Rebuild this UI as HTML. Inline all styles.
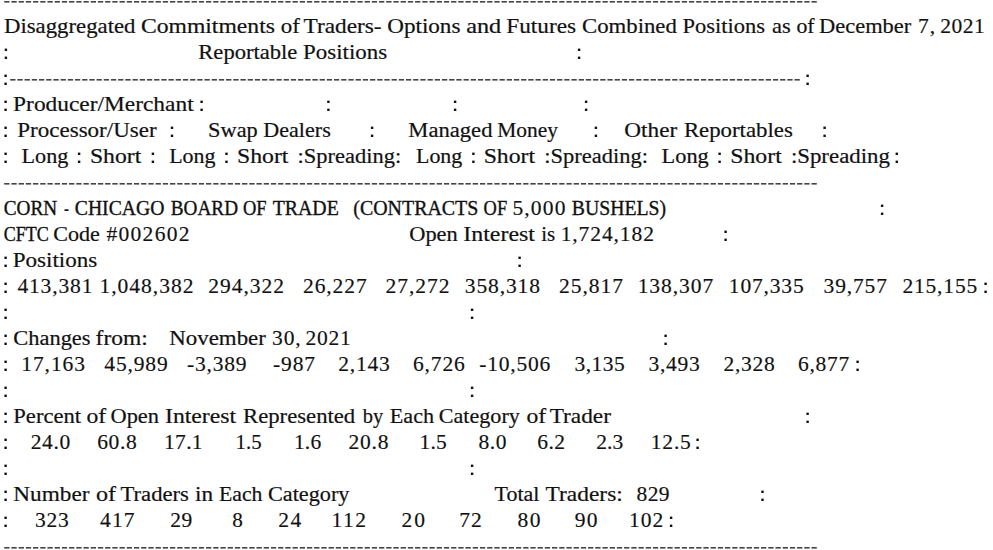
<!DOCTYPE html>
<html><head><meta charset="utf-8"><style>
html,body{margin:0;padding:0;background:#fff;width:993px;height:550px;overflow:hidden}
svg{display:block}
.c{fill:#111}
.n{stroke-width:0.15px}
.u{stroke-width:0.35px}
text{font-family:"Liberation Serif",serif;font-size:20.5px;fill:#111;stroke:#111;stroke-width:0.2px;white-space:pre}
</style></head><body>
<svg width="993" height="550" viewBox="0 0 993 550">
<g fill="#444"><rect x="4.20" y="1.00" width="5.3" height="1.6"/><rect x="11.41" y="1.00" width="5.3" height="1.6"/><rect x="18.62" y="1.00" width="5.3" height="1.6"/><rect x="25.82" y="1.00" width="5.3" height="1.6"/><rect x="33.03" y="1.00" width="5.3" height="1.6"/><rect x="40.24" y="1.00" width="5.3" height="1.6"/><rect x="47.45" y="1.00" width="5.3" height="1.6"/><rect x="54.66" y="1.00" width="5.3" height="1.6"/><rect x="61.86" y="1.00" width="5.3" height="1.6"/><rect x="69.07" y="1.00" width="5.3" height="1.6"/><rect x="76.28" y="1.00" width="5.3" height="1.6"/><rect x="83.49" y="1.00" width="5.3" height="1.6"/><rect x="90.70" y="1.00" width="5.3" height="1.6"/><rect x="97.90" y="1.00" width="5.3" height="1.6"/><rect x="105.11" y="1.00" width="5.3" height="1.6"/><rect x="112.32" y="1.00" width="5.3" height="1.6"/><rect x="119.53" y="1.00" width="5.3" height="1.6"/><rect x="126.74" y="1.00" width="5.3" height="1.6"/><rect x="133.94" y="1.00" width="5.3" height="1.6"/><rect x="141.15" y="1.00" width="5.3" height="1.6"/><rect x="148.36" y="1.00" width="5.3" height="1.6"/><rect x="155.57" y="1.00" width="5.3" height="1.6"/><rect x="162.78" y="1.00" width="5.3" height="1.6"/><rect x="169.98" y="1.00" width="5.3" height="1.6"/><rect x="177.19" y="1.00" width="5.3" height="1.6"/><rect x="184.40" y="1.00" width="5.3" height="1.6"/><rect x="191.61" y="1.00" width="5.3" height="1.6"/><rect x="198.82" y="1.00" width="5.3" height="1.6"/><rect x="206.02" y="1.00" width="5.3" height="1.6"/><rect x="213.23" y="1.00" width="5.3" height="1.6"/><rect x="220.44" y="1.00" width="5.3" height="1.6"/><rect x="227.65" y="1.00" width="5.3" height="1.6"/><rect x="234.86" y="1.00" width="5.3" height="1.6"/><rect x="242.07" y="1.00" width="5.3" height="1.6"/><rect x="249.27" y="1.00" width="5.3" height="1.6"/><rect x="256.48" y="1.00" width="5.3" height="1.6"/><rect x="263.69" y="1.00" width="5.3" height="1.6"/><rect x="270.90" y="1.00" width="5.3" height="1.6"/><rect x="278.11" y="1.00" width="5.3" height="1.6"/><rect x="285.31" y="1.00" width="5.3" height="1.6"/><rect x="292.52" y="1.00" width="5.3" height="1.6"/><rect x="299.73" y="1.00" width="5.3" height="1.6"/><rect x="306.94" y="1.00" width="5.3" height="1.6"/><rect x="314.15" y="1.00" width="5.3" height="1.6"/><rect x="321.35" y="1.00" width="5.3" height="1.6"/><rect x="328.56" y="1.00" width="5.3" height="1.6"/><rect x="335.77" y="1.00" width="5.3" height="1.6"/><rect x="342.98" y="1.00" width="5.3" height="1.6"/><rect x="350.19" y="1.00" width="5.3" height="1.6"/><rect x="357.39" y="1.00" width="5.3" height="1.6"/><rect x="364.60" y="1.00" width="5.3" height="1.6"/><rect x="371.81" y="1.00" width="5.3" height="1.6"/><rect x="379.02" y="1.00" width="5.3" height="1.6"/><rect x="386.23" y="1.00" width="5.3" height="1.6"/><rect x="393.43" y="1.00" width="5.3" height="1.6"/><rect x="400.64" y="1.00" width="5.3" height="1.6"/><rect x="407.85" y="1.00" width="5.3" height="1.6"/><rect x="415.06" y="1.00" width="5.3" height="1.6"/><rect x="422.27" y="1.00" width="5.3" height="1.6"/><rect x="429.47" y="1.00" width="5.3" height="1.6"/><rect x="436.68" y="1.00" width="5.3" height="1.6"/><rect x="443.89" y="1.00" width="5.3" height="1.6"/><rect x="451.10" y="1.00" width="5.3" height="1.6"/><rect x="458.31" y="1.00" width="5.3" height="1.6"/><rect x="465.51" y="1.00" width="5.3" height="1.6"/><rect x="472.72" y="1.00" width="5.3" height="1.6"/><rect x="479.93" y="1.00" width="5.3" height="1.6"/><rect x="487.14" y="1.00" width="5.3" height="1.6"/><rect x="494.35" y="1.00" width="5.3" height="1.6"/><rect x="501.55" y="1.00" width="5.3" height="1.6"/><rect x="508.76" y="1.00" width="5.3" height="1.6"/><rect x="515.97" y="1.00" width="5.3" height="1.6"/><rect x="523.18" y="1.00" width="5.3" height="1.6"/><rect x="530.39" y="1.00" width="5.3" height="1.6"/><rect x="537.59" y="1.00" width="5.3" height="1.6"/><rect x="544.80" y="1.00" width="5.3" height="1.6"/><rect x="552.01" y="1.00" width="5.3" height="1.6"/><rect x="559.22" y="1.00" width="5.3" height="1.6"/><rect x="566.43" y="1.00" width="5.3" height="1.6"/><rect x="573.63" y="1.00" width="5.3" height="1.6"/><rect x="580.84" y="1.00" width="5.3" height="1.6"/><rect x="588.05" y="1.00" width="5.3" height="1.6"/><rect x="595.26" y="1.00" width="5.3" height="1.6"/><rect x="602.47" y="1.00" width="5.3" height="1.6"/><rect x="609.67" y="1.00" width="5.3" height="1.6"/><rect x="616.88" y="1.00" width="5.3" height="1.6"/><rect x="624.09" y="1.00" width="5.3" height="1.6"/><rect x="631.30" y="1.00" width="5.3" height="1.6"/><rect x="638.51" y="1.00" width="5.3" height="1.6"/><rect x="645.72" y="1.00" width="5.3" height="1.6"/><rect x="652.92" y="1.00" width="5.3" height="1.6"/><rect x="660.13" y="1.00" width="5.3" height="1.6"/><rect x="667.34" y="1.00" width="5.3" height="1.6"/><rect x="674.55" y="1.00" width="5.3" height="1.6"/><rect x="681.76" y="1.00" width="5.3" height="1.6"/><rect x="688.96" y="1.00" width="5.3" height="1.6"/><rect x="696.17" y="1.00" width="5.3" height="1.6"/><rect x="703.38" y="1.00" width="5.3" height="1.6"/><rect x="710.59" y="1.00" width="5.3" height="1.6"/><rect x="717.80" y="1.00" width="5.3" height="1.6"/><rect x="725.00" y="1.00" width="5.3" height="1.6"/><rect x="732.21" y="1.00" width="5.3" height="1.6"/><rect x="739.42" y="1.00" width="5.3" height="1.6"/><rect x="746.63" y="1.00" width="5.3" height="1.6"/><rect x="753.84" y="1.00" width="5.3" height="1.6"/><rect x="761.04" y="1.00" width="5.3" height="1.6"/><rect x="768.25" y="1.00" width="5.3" height="1.6"/><rect x="775.46" y="1.00" width="5.3" height="1.6"/><rect x="782.67" y="1.00" width="5.3" height="1.6"/><rect x="789.88" y="1.00" width="5.3" height="1.6"/><rect x="797.08" y="1.00" width="5.3" height="1.6"/><rect x="804.29" y="1.00" width="5.3" height="1.6"/><rect x="811.50" y="1.00" width="5.3" height="1.6"/><rect x="10.20" y="79.00" width="5.3" height="1.6"/><rect x="17.40" y="79.00" width="5.3" height="1.6"/><rect x="24.59" y="79.00" width="5.3" height="1.6"/><rect x="31.79" y="79.00" width="5.3" height="1.6"/><rect x="38.98" y="79.00" width="5.3" height="1.6"/><rect x="46.18" y="79.00" width="5.3" height="1.6"/><rect x="53.37" y="79.00" width="5.3" height="1.6"/><rect x="60.57" y="79.00" width="5.3" height="1.6"/><rect x="67.76" y="79.00" width="5.3" height="1.6"/><rect x="74.96" y="79.00" width="5.3" height="1.6"/><rect x="82.15" y="79.00" width="5.3" height="1.6"/><rect x="89.35" y="79.00" width="5.3" height="1.6"/><rect x="96.54" y="79.00" width="5.3" height="1.6"/><rect x="103.74" y="79.00" width="5.3" height="1.6"/><rect x="110.94" y="79.00" width="5.3" height="1.6"/><rect x="118.13" y="79.00" width="5.3" height="1.6"/><rect x="125.33" y="79.00" width="5.3" height="1.6"/><rect x="132.52" y="79.00" width="5.3" height="1.6"/><rect x="139.72" y="79.00" width="5.3" height="1.6"/><rect x="146.91" y="79.00" width="5.3" height="1.6"/><rect x="154.11" y="79.00" width="5.3" height="1.6"/><rect x="161.30" y="79.00" width="5.3" height="1.6"/><rect x="168.50" y="79.00" width="5.3" height="1.6"/><rect x="175.69" y="79.00" width="5.3" height="1.6"/><rect x="182.89" y="79.00" width="5.3" height="1.6"/><rect x="190.09" y="79.00" width="5.3" height="1.6"/><rect x="197.28" y="79.00" width="5.3" height="1.6"/><rect x="204.48" y="79.00" width="5.3" height="1.6"/><rect x="211.67" y="79.00" width="5.3" height="1.6"/><rect x="218.87" y="79.00" width="5.3" height="1.6"/><rect x="226.06" y="79.00" width="5.3" height="1.6"/><rect x="233.26" y="79.00" width="5.3" height="1.6"/><rect x="240.45" y="79.00" width="5.3" height="1.6"/><rect x="247.65" y="79.00" width="5.3" height="1.6"/><rect x="254.84" y="79.00" width="5.3" height="1.6"/><rect x="262.04" y="79.00" width="5.3" height="1.6"/><rect x="269.23" y="79.00" width="5.3" height="1.6"/><rect x="276.43" y="79.00" width="5.3" height="1.6"/><rect x="283.63" y="79.00" width="5.3" height="1.6"/><rect x="290.82" y="79.00" width="5.3" height="1.6"/><rect x="298.02" y="79.00" width="5.3" height="1.6"/><rect x="305.21" y="79.00" width="5.3" height="1.6"/><rect x="312.41" y="79.00" width="5.3" height="1.6"/><rect x="319.60" y="79.00" width="5.3" height="1.6"/><rect x="326.80" y="79.00" width="5.3" height="1.6"/><rect x="333.99" y="79.00" width="5.3" height="1.6"/><rect x="341.19" y="79.00" width="5.3" height="1.6"/><rect x="348.38" y="79.00" width="5.3" height="1.6"/><rect x="355.58" y="79.00" width="5.3" height="1.6"/><rect x="362.78" y="79.00" width="5.3" height="1.6"/><rect x="369.97" y="79.00" width="5.3" height="1.6"/><rect x="377.17" y="79.00" width="5.3" height="1.6"/><rect x="384.36" y="79.00" width="5.3" height="1.6"/><rect x="391.56" y="79.00" width="5.3" height="1.6"/><rect x="398.75" y="79.00" width="5.3" height="1.6"/><rect x="405.95" y="79.00" width="5.3" height="1.6"/><rect x="413.14" y="79.00" width="5.3" height="1.6"/><rect x="420.34" y="79.00" width="5.3" height="1.6"/><rect x="427.53" y="79.00" width="5.3" height="1.6"/><rect x="434.73" y="79.00" width="5.3" height="1.6"/><rect x="441.92" y="79.00" width="5.3" height="1.6"/><rect x="449.12" y="79.00" width="5.3" height="1.6"/><rect x="456.32" y="79.00" width="5.3" height="1.6"/><rect x="463.51" y="79.00" width="5.3" height="1.6"/><rect x="470.71" y="79.00" width="5.3" height="1.6"/><rect x="477.90" y="79.00" width="5.3" height="1.6"/><rect x="485.10" y="79.00" width="5.3" height="1.6"/><rect x="492.29" y="79.00" width="5.3" height="1.6"/><rect x="499.49" y="79.00" width="5.3" height="1.6"/><rect x="506.68" y="79.00" width="5.3" height="1.6"/><rect x="513.88" y="79.00" width="5.3" height="1.6"/><rect x="521.07" y="79.00" width="5.3" height="1.6"/><rect x="528.27" y="79.00" width="5.3" height="1.6"/><rect x="535.47" y="79.00" width="5.3" height="1.6"/><rect x="542.66" y="79.00" width="5.3" height="1.6"/><rect x="549.86" y="79.00" width="5.3" height="1.6"/><rect x="557.05" y="79.00" width="5.3" height="1.6"/><rect x="564.25" y="79.00" width="5.3" height="1.6"/><rect x="571.44" y="79.00" width="5.3" height="1.6"/><rect x="578.64" y="79.00" width="5.3" height="1.6"/><rect x="585.83" y="79.00" width="5.3" height="1.6"/><rect x="593.03" y="79.00" width="5.3" height="1.6"/><rect x="600.22" y="79.00" width="5.3" height="1.6"/><rect x="607.42" y="79.00" width="5.3" height="1.6"/><rect x="614.61" y="79.00" width="5.3" height="1.6"/><rect x="621.81" y="79.00" width="5.3" height="1.6"/><rect x="629.01" y="79.00" width="5.3" height="1.6"/><rect x="636.20" y="79.00" width="5.3" height="1.6"/><rect x="643.40" y="79.00" width="5.3" height="1.6"/><rect x="650.59" y="79.00" width="5.3" height="1.6"/><rect x="657.79" y="79.00" width="5.3" height="1.6"/><rect x="664.98" y="79.00" width="5.3" height="1.6"/><rect x="672.18" y="79.00" width="5.3" height="1.6"/><rect x="679.37" y="79.00" width="5.3" height="1.6"/><rect x="686.57" y="79.00" width="5.3" height="1.6"/><rect x="693.76" y="79.00" width="5.3" height="1.6"/><rect x="700.96" y="79.00" width="5.3" height="1.6"/><rect x="708.16" y="79.00" width="5.3" height="1.6"/><rect x="715.35" y="79.00" width="5.3" height="1.6"/><rect x="722.55" y="79.00" width="5.3" height="1.6"/><rect x="729.74" y="79.00" width="5.3" height="1.6"/><rect x="736.94" y="79.00" width="5.3" height="1.6"/><rect x="744.13" y="79.00" width="5.3" height="1.6"/><rect x="751.33" y="79.00" width="5.3" height="1.6"/><rect x="758.52" y="79.00" width="5.3" height="1.6"/><rect x="765.72" y="79.00" width="5.3" height="1.6"/><rect x="772.91" y="79.00" width="5.3" height="1.6"/><rect x="780.11" y="79.00" width="5.3" height="1.6"/><rect x="787.30" y="79.00" width="5.3" height="1.6"/><rect x="794.50" y="79.00" width="5.3" height="1.6"/><rect x="4.20" y="183.00" width="5.3" height="1.6"/><rect x="11.41" y="183.00" width="5.3" height="1.6"/><rect x="18.62" y="183.00" width="5.3" height="1.6"/><rect x="25.82" y="183.00" width="5.3" height="1.6"/><rect x="33.03" y="183.00" width="5.3" height="1.6"/><rect x="40.24" y="183.00" width="5.3" height="1.6"/><rect x="47.45" y="183.00" width="5.3" height="1.6"/><rect x="54.66" y="183.00" width="5.3" height="1.6"/><rect x="61.86" y="183.00" width="5.3" height="1.6"/><rect x="69.07" y="183.00" width="5.3" height="1.6"/><rect x="76.28" y="183.00" width="5.3" height="1.6"/><rect x="83.49" y="183.00" width="5.3" height="1.6"/><rect x="90.70" y="183.00" width="5.3" height="1.6"/><rect x="97.90" y="183.00" width="5.3" height="1.6"/><rect x="105.11" y="183.00" width="5.3" height="1.6"/><rect x="112.32" y="183.00" width="5.3" height="1.6"/><rect x="119.53" y="183.00" width="5.3" height="1.6"/><rect x="126.74" y="183.00" width="5.3" height="1.6"/><rect x="133.94" y="183.00" width="5.3" height="1.6"/><rect x="141.15" y="183.00" width="5.3" height="1.6"/><rect x="148.36" y="183.00" width="5.3" height="1.6"/><rect x="155.57" y="183.00" width="5.3" height="1.6"/><rect x="162.78" y="183.00" width="5.3" height="1.6"/><rect x="169.98" y="183.00" width="5.3" height="1.6"/><rect x="177.19" y="183.00" width="5.3" height="1.6"/><rect x="184.40" y="183.00" width="5.3" height="1.6"/><rect x="191.61" y="183.00" width="5.3" height="1.6"/><rect x="198.82" y="183.00" width="5.3" height="1.6"/><rect x="206.02" y="183.00" width="5.3" height="1.6"/><rect x="213.23" y="183.00" width="5.3" height="1.6"/><rect x="220.44" y="183.00" width="5.3" height="1.6"/><rect x="227.65" y="183.00" width="5.3" height="1.6"/><rect x="234.86" y="183.00" width="5.3" height="1.6"/><rect x="242.07" y="183.00" width="5.3" height="1.6"/><rect x="249.27" y="183.00" width="5.3" height="1.6"/><rect x="256.48" y="183.00" width="5.3" height="1.6"/><rect x="263.69" y="183.00" width="5.3" height="1.6"/><rect x="270.90" y="183.00" width="5.3" height="1.6"/><rect x="278.11" y="183.00" width="5.3" height="1.6"/><rect x="285.31" y="183.00" width="5.3" height="1.6"/><rect x="292.52" y="183.00" width="5.3" height="1.6"/><rect x="299.73" y="183.00" width="5.3" height="1.6"/><rect x="306.94" y="183.00" width="5.3" height="1.6"/><rect x="314.15" y="183.00" width="5.3" height="1.6"/><rect x="321.35" y="183.00" width="5.3" height="1.6"/><rect x="328.56" y="183.00" width="5.3" height="1.6"/><rect x="335.77" y="183.00" width="5.3" height="1.6"/><rect x="342.98" y="183.00" width="5.3" height="1.6"/><rect x="350.19" y="183.00" width="5.3" height="1.6"/><rect x="357.39" y="183.00" width="5.3" height="1.6"/><rect x="364.60" y="183.00" width="5.3" height="1.6"/><rect x="371.81" y="183.00" width="5.3" height="1.6"/><rect x="379.02" y="183.00" width="5.3" height="1.6"/><rect x="386.23" y="183.00" width="5.3" height="1.6"/><rect x="393.43" y="183.00" width="5.3" height="1.6"/><rect x="400.64" y="183.00" width="5.3" height="1.6"/><rect x="407.85" y="183.00" width="5.3" height="1.6"/><rect x="415.06" y="183.00" width="5.3" height="1.6"/><rect x="422.27" y="183.00" width="5.3" height="1.6"/><rect x="429.47" y="183.00" width="5.3" height="1.6"/><rect x="436.68" y="183.00" width="5.3" height="1.6"/><rect x="443.89" y="183.00" width="5.3" height="1.6"/><rect x="451.10" y="183.00" width="5.3" height="1.6"/><rect x="458.31" y="183.00" width="5.3" height="1.6"/><rect x="465.51" y="183.00" width="5.3" height="1.6"/><rect x="472.72" y="183.00" width="5.3" height="1.6"/><rect x="479.93" y="183.00" width="5.3" height="1.6"/><rect x="487.14" y="183.00" width="5.3" height="1.6"/><rect x="494.35" y="183.00" width="5.3" height="1.6"/><rect x="501.55" y="183.00" width="5.3" height="1.6"/><rect x="508.76" y="183.00" width="5.3" height="1.6"/><rect x="515.97" y="183.00" width="5.3" height="1.6"/><rect x="523.18" y="183.00" width="5.3" height="1.6"/><rect x="530.39" y="183.00" width="5.3" height="1.6"/><rect x="537.59" y="183.00" width="5.3" height="1.6"/><rect x="544.80" y="183.00" width="5.3" height="1.6"/><rect x="552.01" y="183.00" width="5.3" height="1.6"/><rect x="559.22" y="183.00" width="5.3" height="1.6"/><rect x="566.43" y="183.00" width="5.3" height="1.6"/><rect x="573.63" y="183.00" width="5.3" height="1.6"/><rect x="580.84" y="183.00" width="5.3" height="1.6"/><rect x="588.05" y="183.00" width="5.3" height="1.6"/><rect x="595.26" y="183.00" width="5.3" height="1.6"/><rect x="602.47" y="183.00" width="5.3" height="1.6"/><rect x="609.67" y="183.00" width="5.3" height="1.6"/><rect x="616.88" y="183.00" width="5.3" height="1.6"/><rect x="624.09" y="183.00" width="5.3" height="1.6"/><rect x="631.30" y="183.00" width="5.3" height="1.6"/><rect x="638.51" y="183.00" width="5.3" height="1.6"/><rect x="645.72" y="183.00" width="5.3" height="1.6"/><rect x="652.92" y="183.00" width="5.3" height="1.6"/><rect x="660.13" y="183.00" width="5.3" height="1.6"/><rect x="667.34" y="183.00" width="5.3" height="1.6"/><rect x="674.55" y="183.00" width="5.3" height="1.6"/><rect x="681.76" y="183.00" width="5.3" height="1.6"/><rect x="688.96" y="183.00" width="5.3" height="1.6"/><rect x="696.17" y="183.00" width="5.3" height="1.6"/><rect x="703.38" y="183.00" width="5.3" height="1.6"/><rect x="710.59" y="183.00" width="5.3" height="1.6"/><rect x="717.80" y="183.00" width="5.3" height="1.6"/><rect x="725.00" y="183.00" width="5.3" height="1.6"/><rect x="732.21" y="183.00" width="5.3" height="1.6"/><rect x="739.42" y="183.00" width="5.3" height="1.6"/><rect x="746.63" y="183.00" width="5.3" height="1.6"/><rect x="753.84" y="183.00" width="5.3" height="1.6"/><rect x="761.04" y="183.00" width="5.3" height="1.6"/><rect x="768.25" y="183.00" width="5.3" height="1.6"/><rect x="775.46" y="183.00" width="5.3" height="1.6"/><rect x="782.67" y="183.00" width="5.3" height="1.6"/><rect x="789.88" y="183.00" width="5.3" height="1.6"/><rect x="797.08" y="183.00" width="5.3" height="1.6"/><rect x="804.29" y="183.00" width="5.3" height="1.6"/><rect x="811.50" y="183.00" width="5.3" height="1.6"/><rect x="4.20" y="547.00" width="5.3" height="1.6"/><rect x="11.41" y="547.00" width="5.3" height="1.6"/><rect x="18.62" y="547.00" width="5.3" height="1.6"/><rect x="25.82" y="547.00" width="5.3" height="1.6"/><rect x="33.03" y="547.00" width="5.3" height="1.6"/><rect x="40.24" y="547.00" width="5.3" height="1.6"/><rect x="47.45" y="547.00" width="5.3" height="1.6"/><rect x="54.66" y="547.00" width="5.3" height="1.6"/><rect x="61.86" y="547.00" width="5.3" height="1.6"/><rect x="69.07" y="547.00" width="5.3" height="1.6"/><rect x="76.28" y="547.00" width="5.3" height="1.6"/><rect x="83.49" y="547.00" width="5.3" height="1.6"/><rect x="90.70" y="547.00" width="5.3" height="1.6"/><rect x="97.90" y="547.00" width="5.3" height="1.6"/><rect x="105.11" y="547.00" width="5.3" height="1.6"/><rect x="112.32" y="547.00" width="5.3" height="1.6"/><rect x="119.53" y="547.00" width="5.3" height="1.6"/><rect x="126.74" y="547.00" width="5.3" height="1.6"/><rect x="133.94" y="547.00" width="5.3" height="1.6"/><rect x="141.15" y="547.00" width="5.3" height="1.6"/><rect x="148.36" y="547.00" width="5.3" height="1.6"/><rect x="155.57" y="547.00" width="5.3" height="1.6"/><rect x="162.78" y="547.00" width="5.3" height="1.6"/><rect x="169.98" y="547.00" width="5.3" height="1.6"/><rect x="177.19" y="547.00" width="5.3" height="1.6"/><rect x="184.40" y="547.00" width="5.3" height="1.6"/><rect x="191.61" y="547.00" width="5.3" height="1.6"/><rect x="198.82" y="547.00" width="5.3" height="1.6"/><rect x="206.02" y="547.00" width="5.3" height="1.6"/><rect x="213.23" y="547.00" width="5.3" height="1.6"/><rect x="220.44" y="547.00" width="5.3" height="1.6"/><rect x="227.65" y="547.00" width="5.3" height="1.6"/><rect x="234.86" y="547.00" width="5.3" height="1.6"/><rect x="242.07" y="547.00" width="5.3" height="1.6"/><rect x="249.27" y="547.00" width="5.3" height="1.6"/><rect x="256.48" y="547.00" width="5.3" height="1.6"/><rect x="263.69" y="547.00" width="5.3" height="1.6"/><rect x="270.90" y="547.00" width="5.3" height="1.6"/><rect x="278.11" y="547.00" width="5.3" height="1.6"/><rect x="285.31" y="547.00" width="5.3" height="1.6"/><rect x="292.52" y="547.00" width="5.3" height="1.6"/><rect x="299.73" y="547.00" width="5.3" height="1.6"/><rect x="306.94" y="547.00" width="5.3" height="1.6"/><rect x="314.15" y="547.00" width="5.3" height="1.6"/><rect x="321.35" y="547.00" width="5.3" height="1.6"/><rect x="328.56" y="547.00" width="5.3" height="1.6"/><rect x="335.77" y="547.00" width="5.3" height="1.6"/><rect x="342.98" y="547.00" width="5.3" height="1.6"/><rect x="350.19" y="547.00" width="5.3" height="1.6"/><rect x="357.39" y="547.00" width="5.3" height="1.6"/><rect x="364.60" y="547.00" width="5.3" height="1.6"/><rect x="371.81" y="547.00" width="5.3" height="1.6"/><rect x="379.02" y="547.00" width="5.3" height="1.6"/><rect x="386.23" y="547.00" width="5.3" height="1.6"/><rect x="393.43" y="547.00" width="5.3" height="1.6"/><rect x="400.64" y="547.00" width="5.3" height="1.6"/><rect x="407.85" y="547.00" width="5.3" height="1.6"/><rect x="415.06" y="547.00" width="5.3" height="1.6"/><rect x="422.27" y="547.00" width="5.3" height="1.6"/><rect x="429.47" y="547.00" width="5.3" height="1.6"/><rect x="436.68" y="547.00" width="5.3" height="1.6"/><rect x="443.89" y="547.00" width="5.3" height="1.6"/><rect x="451.10" y="547.00" width="5.3" height="1.6"/><rect x="458.31" y="547.00" width="5.3" height="1.6"/><rect x="465.51" y="547.00" width="5.3" height="1.6"/><rect x="472.72" y="547.00" width="5.3" height="1.6"/><rect x="479.93" y="547.00" width="5.3" height="1.6"/><rect x="487.14" y="547.00" width="5.3" height="1.6"/><rect x="494.35" y="547.00" width="5.3" height="1.6"/><rect x="501.55" y="547.00" width="5.3" height="1.6"/><rect x="508.76" y="547.00" width="5.3" height="1.6"/><rect x="515.97" y="547.00" width="5.3" height="1.6"/><rect x="523.18" y="547.00" width="5.3" height="1.6"/><rect x="530.39" y="547.00" width="5.3" height="1.6"/><rect x="537.59" y="547.00" width="5.3" height="1.6"/><rect x="544.80" y="547.00" width="5.3" height="1.6"/><rect x="552.01" y="547.00" width="5.3" height="1.6"/><rect x="559.22" y="547.00" width="5.3" height="1.6"/><rect x="566.43" y="547.00" width="5.3" height="1.6"/><rect x="573.63" y="547.00" width="5.3" height="1.6"/><rect x="580.84" y="547.00" width="5.3" height="1.6"/><rect x="588.05" y="547.00" width="5.3" height="1.6"/><rect x="595.26" y="547.00" width="5.3" height="1.6"/><rect x="602.47" y="547.00" width="5.3" height="1.6"/><rect x="609.67" y="547.00" width="5.3" height="1.6"/><rect x="616.88" y="547.00" width="5.3" height="1.6"/><rect x="624.09" y="547.00" width="5.3" height="1.6"/><rect x="631.30" y="547.00" width="5.3" height="1.6"/><rect x="638.51" y="547.00" width="5.3" height="1.6"/><rect x="645.72" y="547.00" width="5.3" height="1.6"/><rect x="652.92" y="547.00" width="5.3" height="1.6"/><rect x="660.13" y="547.00" width="5.3" height="1.6"/><rect x="667.34" y="547.00" width="5.3" height="1.6"/><rect x="674.55" y="547.00" width="5.3" height="1.6"/><rect x="681.76" y="547.00" width="5.3" height="1.6"/><rect x="688.96" y="547.00" width="5.3" height="1.6"/><rect x="696.17" y="547.00" width="5.3" height="1.6"/><rect x="703.38" y="547.00" width="5.3" height="1.6"/><rect x="710.59" y="547.00" width="5.3" height="1.6"/><rect x="717.80" y="547.00" width="5.3" height="1.6"/><rect x="725.00" y="547.00" width="5.3" height="1.6"/><rect x="732.21" y="547.00" width="5.3" height="1.6"/><rect x="739.42" y="547.00" width="5.3" height="1.6"/><rect x="746.63" y="547.00" width="5.3" height="1.6"/><rect x="753.84" y="547.00" width="5.3" height="1.6"/><rect x="761.04" y="547.00" width="5.3" height="1.6"/><rect x="768.25" y="547.00" width="5.3" height="1.6"/><rect x="775.46" y="547.00" width="5.3" height="1.6"/><rect x="782.67" y="547.00" width="5.3" height="1.6"/><rect x="789.88" y="547.00" width="5.3" height="1.6"/><rect x="797.08" y="547.00" width="5.3" height="1.6"/><rect x="804.29" y="547.00" width="5.3" height="1.6"/><rect x="811.50" y="547.00" width="5.3" height="1.6"/></g>
<text transform="translate(4.00 33) scale(1.1105 1)">Disaggregated</text>
<text transform="translate(140.90 33) scale(1.1541 1)">Commitments</text>
<text transform="translate(280.70 33) scale(1.1188 1)">of</text>
<text transform="translate(303.60 33) scale(1.1353 1)">Traders-</text>
<text transform="translate(387.20 33) scale(1.1286 1)">Options</text>
<text transform="translate(466.20 33) scale(1.1823 1)">and</text>
<text transform="translate(506.20 33) scale(1.1362 1)">Futures</text>
<text transform="translate(582.00 33) scale(1.1108 1)">Combined</text>
<text transform="translate(682.60 33) scale(1.0968 1)">Positions</text>
<text transform="translate(772.00 33) scale(1.0936 1)">as</text>
<text transform="translate(796.40 33) scale(1.0609 1)">of</text>
<text transform="translate(819.10 33) scale(1.0948 1)">December</text>
<text class="n" style="letter-spacing:1.036px" transform="translate(917.95 33) scale(1.0500 1)">7,</text>
<text class="n" style="letter-spacing:0.512px" transform="translate(940.20 33) scale(1.0500 1)">2021</text>
<rect class="c" x="4.70" y="48.60" width="2.4" height="2.4"/><rect class="c" x="4.70" y="56.60" width="2.4" height="2.4"/>
<text transform="translate(198.30 59) scale(1.1020 1)">Reportable</text>
<text transform="translate(303.10 59) scale(1.1168 1)">Positions</text>
<rect class="c" x="577.90" y="48.60" width="2.4" height="2.4"/><rect class="c" x="577.90" y="56.60" width="2.4" height="2.4"/>
<rect class="c" x="4.40" y="74.60" width="2.4" height="2.4"/><rect class="c" x="4.40" y="82.60" width="2.4" height="2.4"/>
<rect class="c" x="806.40" y="74.60" width="2.4" height="2.4"/><rect class="c" x="806.40" y="82.60" width="2.4" height="2.4"/>
<rect class="c" x="4.40" y="100.60" width="2.4" height="2.4"/><rect class="c" x="4.40" y="108.60" width="2.4" height="2.4"/>
<text transform="translate(13.10 111) scale(1.1416 1)">Producer/Merchant</text>
<rect class="c" x="200.40" y="100.60" width="2.4" height="2.4"/><rect class="c" x="200.40" y="108.60" width="2.4" height="2.4"/>
<rect class="c" x="327.20" y="100.60" width="2.4" height="2.4"/><rect class="c" x="327.20" y="108.60" width="2.4" height="2.4"/>
<rect class="c" x="453.90" y="100.60" width="2.4" height="2.4"/><rect class="c" x="453.90" y="108.60" width="2.4" height="2.4"/>
<rect class="c" x="584.90" y="100.60" width="2.4" height="2.4"/><rect class="c" x="584.90" y="108.60" width="2.4" height="2.4"/>
<rect class="c" x="4.40" y="126.60" width="2.4" height="2.4"/><rect class="c" x="4.40" y="134.60" width="2.4" height="2.4"/>
<text transform="translate(17.30 137) scale(1.1232 1)">Processor/User</text>
<rect class="c" x="170.80" y="126.60" width="2.4" height="2.4"/><rect class="c" x="170.80" y="134.60" width="2.4" height="2.4"/>
<text transform="translate(208.11 137) scale(1.0902 1)">Swap</text>
<text transform="translate(263.30 137) scale(1.0779 1)">Dealers</text>
<rect class="c" x="370.90" y="126.60" width="2.4" height="2.4"/><rect class="c" x="370.90" y="134.60" width="2.4" height="2.4"/>
<text transform="translate(408.30 137) scale(1.1036 1)">Managed</text>
<text transform="translate(497.20 137) scale(1.0454 1)">Money</text>
<rect class="c" x="594.70" y="126.60" width="2.4" height="2.4"/><rect class="c" x="594.70" y="134.60" width="2.4" height="2.4"/>
<text transform="translate(624.30 137) scale(1.1334 1)">Other</text>
<text transform="translate(683.90 137) scale(1.1130 1)">Reportables</text>
<rect class="c" x="823.40" y="126.60" width="2.4" height="2.4"/><rect class="c" x="823.40" y="134.60" width="2.4" height="2.4"/>
<rect class="c" x="4.40" y="152.60" width="2.4" height="2.4"/><rect class="c" x="4.40" y="160.60" width="2.4" height="2.4"/>
<text transform="translate(21.60 163) scale(1.0808 1)">Long</text>
<rect class="c" x="77.90" y="152.60" width="2.4" height="2.4"/><rect class="c" x="77.90" y="160.60" width="2.4" height="2.4"/>
<text transform="translate(89.95 163) scale(1.1549 1)">Short</text>
<rect class="c" x="151.70" y="152.60" width="2.4" height="2.4"/><rect class="c" x="151.70" y="160.60" width="2.4" height="2.4"/>
<text transform="translate(169.20 163) scale(1.0715 1)">Long</text>
<rect class="c" x="225.30" y="152.60" width="2.4" height="2.4"/><rect class="c" x="225.30" y="160.60" width="2.4" height="2.4"/>
<text transform="translate(236.94 163) scale(1.1594 1)">Short</text>
<text transform="translate(297.60 163) scale(1.0968 1)">:Spreading:</text>
<text transform="translate(416.00 163) scale(1.0692 1)">Long</text>
<rect class="c" x="472.20" y="152.60" width="2.4" height="2.4"/><rect class="c" x="472.20" y="160.60" width="2.4" height="2.4"/>
<text transform="translate(483.64 163) scale(1.1594 1)">Short</text>
<text transform="translate(544.30 163) scale(1.0968 1)">:Spreading:</text>
<text transform="translate(661.60 163) scale(1.0901 1)">Long</text>
<rect class="c" x="718.40" y="152.60" width="2.4" height="2.4"/><rect class="c" x="718.40" y="160.60" width="2.4" height="2.4"/>
<text transform="translate(730.24 163) scale(1.1594 1)">Short</text>
<text transform="translate(790.88 163) scale(1.1157 1)">:Spreading</text>
<rect class="c" x="895.60" y="152.60" width="2.4" height="2.4"/><rect class="c" x="895.60" y="160.60" width="2.4" height="2.4"/>
<text class="u" transform="translate(3.70 215) scale(0.9379 1)">CORN</text>
<text transform="translate(64.00 215) scale(0.7143 1)">-</text>
<text class="u" transform="translate(74.80 215) scale(0.9602 1)">CHICAGO</text>
<text class="u" transform="translate(170.80 215) scale(0.9372 1)">BOARD</text>
<text class="u" transform="translate(243.00 215) scale(0.9029 1)">OF</text>
<text class="u" transform="translate(272.70 215) scale(0.9675 1)">TRADE</text>
<text class="u" transform="translate(353.30 215) scale(0.9719 1)">(CONTRACTS</text>
<text class="u" transform="translate(483.60 215) scale(0.8991 1)">OF</text>
<text class="n" style="letter-spacing:1.091px" transform="translate(512.45 215) scale(1.0500 1)">5,000</text>
<text class="u" transform="translate(571.80 215) scale(0.9616 1)">BUSHELS)</text>
<rect class="c" x="880.90" y="204.60" width="2.4" height="2.4"/><rect class="c" x="880.90" y="212.60" width="2.4" height="2.4"/>
<text class="u" transform="translate(3.70 241) scale(0.8795 1)">CFTC</text>
<text transform="translate(53.20 241) scale(1.0771 1)">Code</text>
<text class="n" style="letter-spacing:1.242px" transform="translate(106.40 241) scale(1.0500 1)">#002602</text>
<text transform="translate(409.20 241) scale(1.0939 1)">Open</text>
<text transform="translate(463.30 241) scale(1.1655 1)">Interest</text>
<text transform="translate(541.30 241) scale(1.0222 1)">is</text>
<text class="n" style="letter-spacing:0.859px" transform="translate(560.65 241) scale(1.0500 1)">1,724,182</text>
<rect class="c" x="724.40" y="230.60" width="2.4" height="2.4"/><rect class="c" x="724.40" y="238.60" width="2.4" height="2.4"/>
<rect class="c" x="4.40" y="256.60" width="2.4" height="2.4"/><rect class="c" x="4.40" y="264.60" width="2.4" height="2.4"/>
<text transform="translate(12.70 267) scale(1.1248 1)">Positions</text>
<rect class="c" x="518.40" y="256.60" width="2.4" height="2.4"/><rect class="c" x="518.40" y="264.60" width="2.4" height="2.4"/>
<rect class="c" x="4.40" y="282.60" width="2.4" height="2.4"/><rect class="c" x="4.40" y="290.60" width="2.4" height="2.4"/>
<text class="n" style="letter-spacing:0.811px" transform="translate(17.40 293) scale(1.0500 1)">413,381</text>
<text class="n" style="letter-spacing:0.942px" transform="translate(99.45 293) scale(1.0500 1)">1,048,382</text>
<text class="n" style="letter-spacing:0.938px" transform="translate(208.20 293) scale(1.0500 1)">294,322</text>
<text class="n" style="letter-spacing:0.870px" transform="translate(303.00 293) scale(1.0500 1)">26,227</text>
<text class="n" style="letter-spacing:0.908px" transform="translate(385.60 293) scale(1.0500 1)">27,272</text>
<text class="n" style="letter-spacing:0.842px" transform="translate(464.80 293) scale(1.0500 1)">358,318</text>
<text class="n" style="letter-spacing:0.965px" transform="translate(558.90 293) scale(1.0500 1)">25,817</text>
<text class="n" style="letter-spacing:0.914px" transform="translate(637.65 293) scale(1.0500 1)">138,307</text>
<text class="n" style="letter-spacing:0.787px" transform="translate(728.85 293) scale(1.0500 1)">107,335</text>
<text class="n" style="letter-spacing:0.794px" transform="translate(823.60 293) scale(1.0500 1)">39,757</text>
<text class="n" style="letter-spacing:0.779px" transform="translate(902.40 293) scale(1.0500 1)">215,155</text>
<rect class="c" x="984.40" y="282.60" width="2.4" height="2.4"/><rect class="c" x="984.40" y="290.60" width="2.4" height="2.4"/>
<rect class="c" x="4.40" y="308.60" width="2.4" height="2.4"/><rect class="c" x="4.40" y="316.60" width="2.4" height="2.4"/>
<rect class="c" x="470.90" y="308.60" width="2.4" height="2.4"/><rect class="c" x="470.90" y="316.60" width="2.4" height="2.4"/>
<rect class="c" x="4.40" y="334.60" width="2.4" height="2.4"/><rect class="c" x="4.40" y="342.60" width="2.4" height="2.4"/>
<text transform="translate(13.30 345) scale(1.0946 1)">Changes</text>
<text transform="translate(95.60 345) scale(1.1461 1)">from:</text>
<text transform="translate(169.30 345) scale(1.1165 1)">November</text>
<text class="n" style="letter-spacing:0.845px" transform="translate(272.00 345) scale(1.0500 1)">30,</text>
<text class="n" style="letter-spacing:0.766px" transform="translate(305.40 345) scale(1.0500 1)">2021</text>
<rect class="c" x="664.40" y="334.60" width="2.4" height="2.4"/><rect class="c" x="664.40" y="342.60" width="2.4" height="2.4"/>
<rect class="c" x="4.40" y="360.60" width="2.4" height="2.4"/><rect class="c" x="4.40" y="368.60" width="2.4" height="2.4"/>
<text class="n" style="letter-spacing:0.842px" transform="translate(21.35 371) scale(1.0500 1)">17,163</text>
<text class="n" style="letter-spacing:0.813px" transform="translate(104.30 371) scale(1.0500 1)">45,989</text>
<text class="n" style="letter-spacing:0.793px" transform="translate(186.90 371) scale(1.0500 1)">-3,389</text>
<text class="n" style="letter-spacing:0.859px" transform="translate(273.00 371) scale(1.0500 1)">-987</text>
<text class="n" style="letter-spacing:0.722px" transform="translate(338.30 371) scale(1.0500 1)">2,143</text>
<text class="n" style="letter-spacing:0.817px" transform="translate(413.00 371) scale(1.0500 1)">6,726</text>
<text class="n" style="letter-spacing:0.746px" transform="translate(479.30 371) scale(1.0500 1)">-10,506</text>
<text class="n" style="letter-spacing:0.484px" transform="translate(574.40 371) scale(1.0500 1)">3,135</text>
<text class="n" style="letter-spacing:0.650px" transform="translate(648.60 371) scale(1.0500 1)">3,493</text>
<text class="n" style="letter-spacing:0.722px" transform="translate(723.40 371) scale(1.0500 1)">2,328</text>
<text class="n" style="letter-spacing:0.698px" transform="translate(797.90 371) scale(1.0500 1)">6,877</text>
<rect class="c" x="856.40" y="360.60" width="2.4" height="2.4"/><rect class="c" x="856.40" y="368.60" width="2.4" height="2.4"/>
<rect class="c" x="4.40" y="386.60" width="2.4" height="2.4"/><rect class="c" x="4.40" y="394.60" width="2.4" height="2.4"/>
<rect class="c" x="470.90" y="386.60" width="2.4" height="2.4"/><rect class="c" x="470.90" y="394.60" width="2.4" height="2.4"/>
<rect class="c" x="4.40" y="412.60" width="2.4" height="2.4"/><rect class="c" x="4.40" y="420.60" width="2.4" height="2.4"/>
<text transform="translate(13.30 423) scale(1.1024 1)">Percent</text>
<text transform="translate(86.40 423) scale(1.1536 1)">of</text>
<text transform="translate(110.50 423) scale(1.0917 1)">Open</text>
<text transform="translate(165.00 423) scale(1.1558 1)">Interest</text>
<text transform="translate(243.00 423) scale(1.1082 1)">Represented</text>
<text transform="translate(362.80 423) scale(0.9976 1)">by</text>
<text transform="translate(389.80 423) scale(1.0806 1)">Each</text>
<text transform="translate(438.80 423) scale(1.0791 1)">Category</text>
<text transform="translate(526.50 423) scale(1.1536 1)">of</text>
<text transform="translate(549.70 423) scale(1.1373 1)">Trader</text>
<rect class="c" x="806.40" y="412.60" width="2.4" height="2.4"/><rect class="c" x="806.40" y="420.60" width="2.4" height="2.4"/>
<rect class="c" x="4.40" y="438.60" width="2.4" height="2.4"/><rect class="c" x="4.40" y="446.60" width="2.4" height="2.4"/>
<text class="n" style="letter-spacing:0.633px" transform="translate(30.70 449) scale(1.0500 1)">24.0</text>
<text class="n" style="letter-spacing:0.633px" transform="translate(97.20 449) scale(1.0500 1)">60.8</text>
<text class="n" style="letter-spacing:0.331px" transform="translate(163.95 449) scale(1.0500 1)">17.1</text>
<text class="n" style="letter-spacing:0.000px" transform="translate(235.48 449) scale(1.0215 1)">1.5</text>
<text class="n" style="letter-spacing:0.146px" transform="translate(293.95 449) scale(1.0500 1)">1.6</text>
<text class="n" style="letter-spacing:0.696px" transform="translate(348.60 449) scale(1.0500 1)">20.8</text>
<text class="n" style="letter-spacing:0.098px" transform="translate(419.55 449) scale(1.0500 1)">1.5</text>
<text class="n" style="letter-spacing:0.455px" transform="translate(478.60 449) scale(1.0500 1)">8.0</text>
<text class="n" style="letter-spacing:0.360px" transform="translate(537.30 449) scale(1.0500 1)">6.2</text>
<text class="n" style="letter-spacing:-0.000px" transform="translate(596.30 449) scale(1.0483 1)">2.3</text>
<text class="n" style="letter-spacing:0.776px" transform="translate(650.75 449) scale(1.0500 1)">12.5</text>
<rect class="c" x="696.40" y="438.60" width="2.4" height="2.4"/><rect class="c" x="696.40" y="446.60" width="2.4" height="2.4"/>
<rect class="c" x="4.40" y="464.60" width="2.4" height="2.4"/><rect class="c" x="4.40" y="472.60" width="2.4" height="2.4"/>
<rect class="c" x="470.90" y="464.60" width="2.4" height="2.4"/><rect class="c" x="470.90" y="472.60" width="2.4" height="2.4"/>
<rect class="c" x="4.40" y="490.60" width="2.4" height="2.4"/><rect class="c" x="4.40" y="498.60" width="2.4" height="2.4"/>
<text transform="translate(13.30 501) scale(1.1344 1)">Number</text>
<text transform="translate(96.00 501) scale(1.1768 1)">of</text>
<text transform="translate(120.50 501) scale(1.1066 1)">Traders</text>
<text transform="translate(195.00 501) scale(1.1341 1)">in</text>
<text transform="translate(219.00 501) scale(1.0609 1)">Each</text>
<text transform="translate(268.00 501) scale(1.0844 1)">Category</text>
<text transform="translate(494.60 501) scale(1.0727 1)">Total</text>
<text transform="translate(545.60 501) scale(1.1423 1)">Traders:</text>
<text class="n" style="letter-spacing:0.321px" transform="translate(636.60 501) scale(1.0500 1)">829</text>
<rect class="c" x="761.30" y="490.60" width="2.4" height="2.4"/><rect class="c" x="761.30" y="498.60" width="2.4" height="2.4"/>
<rect class="c" x="4.40" y="516.60" width="2.4" height="2.4"/><rect class="c" x="4.40" y="524.60" width="2.4" height="2.4"/>
<text class="n" style="letter-spacing:0.750px" transform="translate(34.90 527) scale(1.0500 1)">323</text>
<text class="n" style="letter-spacing:1.083px" transform="translate(100.00 527) scale(1.0500 1)">417</text>
<text class="n" style="letter-spacing:0.321px" transform="translate(170.30 527) scale(1.0500 1)">29</text>
<text class="n" transform="translate(232.30 527) scale(1.0300 1)">8</text>
<text class="n" style="letter-spacing:1.274px" transform="translate(278.30 527) scale(1.0500 1)">24</text>
<text class="n" style="letter-spacing:1.440px" transform="translate(331.45 527) scale(1.0500 1)">112</text>
<text class="n" style="letter-spacing:1.940px" transform="translate(401.40 527) scale(1.0500 1)">20</text>
<text class="n" style="letter-spacing:0.845px" transform="translate(459.35 527) scale(1.0500 1)">72</text>
<text class="n" style="letter-spacing:1.369px" transform="translate(517.50 527) scale(1.0500 1)">80</text>
<text class="n" style="letter-spacing:1.083px" transform="translate(574.80 527) scale(1.0500 1)">90</text>
<text class="n" style="letter-spacing:0.964px" transform="translate(629.05 527) scale(1.0500 1)">102</text>
<rect class="c" x="669.90" y="516.60" width="2.4" height="2.4"/><rect class="c" x="669.90" y="524.60" width="2.4" height="2.4"/>
</svg>
</body></html>
